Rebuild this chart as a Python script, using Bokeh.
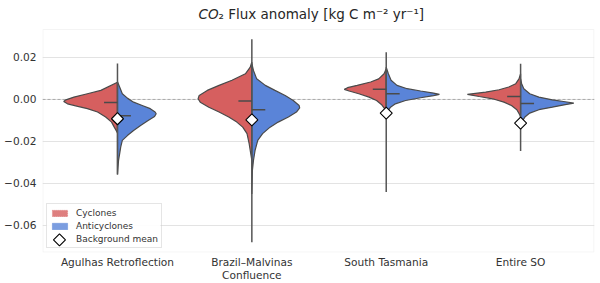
import math
from bokeh.plotting import figure
from bokeh.models import Span, Legend, LegendItem, FixedTicker, Label, BoxAnnotation
from bokeh.embed import file_html
from bokeh.resources import INLINE

# ---------------- data ----------------
regions = ["Agulhas Retroflection", "Brazil\u2013Malvinas\nConfluence", "South Tasmania", "Entire SO"]

# half-violin outlines: y levels and relative density (1 = widest half)
cyc_y = [
    [0.0082, 0.0043, 0.0027, 0.0011, -0.0002, -0.0010, -0.0021, -0.0033, -0.0044, -0.0060, -0.0084, -0.0108, -0.0132, -0.0150, -0.0160],
    [0.0178, 0.0154, 0.0122, 0.0091, 0.0067, 0.0043, 0.0019, 0.0003, -0.0013, -0.0037, -0.0060, -0.0084, -0.0108, -0.0132, -0.0163, -0.0211, -0.0259, -0.0290],
    [0.0146, 0.0122, 0.0098, 0.0083, 0.0067, 0.0056, 0.0048, 0.0040, 0.0027, 0.0011, -0.0005, -0.0024, -0.0044, -0.0060],
    [0.0122, 0.0098, 0.0075, 0.0059, 0.0046, 0.0035, 0.0024, 0.0014, 0.0003, -0.0013, -0.0029, -0.0049, -0.0071, -0.0084],
]
cyc_d = [
    [0, .31, .56, .81, .96, 1.0, .93, .74, .56, .37, .22, .11, .06, .02, 0],
    [0, .03, .12, .37, .61, .83, .98, 1.0, .96, .80, .61, .43, .28, .17, .09, .05, .02, 0],
    [0, .04, .14, .29, .54, .72, .78, .69, .51, .32, .18, .09, .03, 0],
    [0, .03, .09, .22, .40, .65, .99, .77, .52, .31, .17, .07, .02, 0],
]
anti_y = [
    [0.0084, 0.0059, 0.0027, 0.0005, -0.0013, -0.0029, -0.0044, -0.0060, -0.0068, -0.0081, -0.0100, -0.0124, -0.0148, -0.0171, -0.0195, -0.0227, -0.0259, -0.0290, -0.0357],
    [0.0170, 0.0138, 0.0098, 0.0067, 0.0043, 0.0019, -0.0005, -0.0029, -0.0040, -0.0060, -0.0084, -0.0108, -0.0132, -0.0163, -0.0195, -0.0243, -0.0290, -0.0338, -0.0450],
    [0.0154, 0.0122, 0.0091, 0.0067, 0.0051, 0.0040, 0.0030, 0.0024, 0.0018, 0.0008, -0.0005, -0.0021, -0.0037, -0.0056, -0.0068],
    [0.0098, 0.0075, 0.0051, 0.0027, 0.0011, -0.0002, -0.0011, -0.0018, -0.0025, -0.0037, -0.0049, -0.0065, -0.0084, -0.0103, -0.0116],
]
anti_d = [
    [0, .04, .09, .19, .30, .46, .61, .70, .72, .69, .57, .43, .30, .19, .09, .06, .04, .02, 0],
    [0, .03, .09, .25, .43, .62, .77, .88, .89, .83, .68, .49, .34, .20, .11, .06, .03, .01, 0],
    [0, .04, .09, .20, .39, .64, .88, .99, .88, .64, .36, .17, .08, .03, 0],
    [0, .02, .06, .17, .34, .59, .83, .99, .83, .59, .34, .17, .08, .03, 0],
]
cyc_median = [-0.0015, -0.0008, 0.0048, 0.0014]
anti_median = [-0.0078, -0.0049, 0.0027, -0.0020]
data_min = [-0.0357, -0.0680, -0.0441, -0.0246]
data_max = [0.0171, 0.0287, 0.0225, 0.0170]
background_mean = [-0.0092, -0.0097, -0.0065, -0.0113]

yticks = [-0.06, -0.04, -0.02, 0.0, 0.02]
ytick_labels = ["\u22120.06", "\u22120.04", "\u22120.02", "0.00", "0.02"]
legend_labels = ["Cyclones", "Anticyclones", "Background mean"]

# ---------------- style ----------------
RED = "#d65f5f"
BLUE = "#5a84d8"
EDGE = "#4a4a4a"
HALF = 0.4
FONT = "DejaVu Sans"
Y_LO, Y_HI = -0.0729, 0.0333      # visible axes box
Y_TOP = 0.04711                   # headroom used for the title line
X_LO, X_HI = -0.558, 3.55

p = figure(width=600, height=283, x_range=(X_LO, X_HI), y_range=(Y_LO, Y_TOP),
           output_backend="svg", toolbar_location=None,
           min_border_left=42, min_border_right=6, min_border_top=0, min_border_bottom=31)
p.background_fill_color = "white"
p.border_fill_color = "white"
p.outline_line_color = None
p.xgrid.visible = False
p.ygrid.grid_line_color = "#e3e3e3"
p.ygrid.grid_line_width = 1.0

box = BoxAnnotation(left=X_LO + 0.003, right=X_HI - 0.004, bottom=Y_LO + 0.0002, top=Y_HI,
                    fill_alpha=0, line_color="#dcdcdc", line_width=1.2, level="underlay")
p.add_layout(box)

zero = Span(location=0, dimension="width", line_color="#999999", line_dash="3 2", line_width=0.8, level="underlay")
p.add_layout(zero)

# white backing of the legend box (legend itself drawn transparent on top)
leg_bg = BoxAnnotation(left=-0.5284, right=0.3200, top=-0.0505, bottom=-0.0710,
                       fill_color="white", fill_alpha=0.9, line_alpha=0, level="underlay")
p.add_layout(leg_bg)

xs_c, ys_c, xs_a, ys_a = [], [], [], []
for i in range(len(regions)):
    xs_c.append([i - d * HALF for d in cyc_d[i]] + [i])
    ys_c.append(list(cyc_y[i]) + [cyc_y[i][0]])
    xs_a.append([i + d * HALF for d in anti_d[i]] + [i])
    ys_a.append(list(anti_y[i]) + [anti_y[i][0]])

p.patches(xs_c, ys_c, fill_color=RED, line_color=EDGE, line_width=1.2)
p.patches(xs_a, ys_a, fill_color=BLUE, line_color=EDGE, line_width=1.2)

xpos = list(range(len(regions)))
p.segment(x0=xpos, y0=data_min, x1=xpos, y1=data_max, line_color="#555555", line_width=1.5)
p.segment(x0=[x - 0.1 for x in xpos], y0=cyc_median, x1=xpos, y1=cyc_median, line_color=EDGE, line_width=1.5)
p.segment(x0=xpos, y0=anti_median, x1=[x + 0.1 for x in xpos], y1=anti_median, line_color=EDGE, line_width=1.5)

DIAMOND = dict(marker="square", angle=math.pi / 4, size=8.5, fill_color="white",
               line_color="black", line_width=1.1)
p.scatter(x=xpos, y=background_mean, **DIAMOND)

# legend key renderers (hidden; only their styles are used by the legend)
leg_c = p.patches(xs_c, ys_c, fill_color=RED, fill_alpha=0.8, line_color=RED, line_alpha=0.6,
                  line_dash="1 1", line_width=0.8, visible=False)
leg_a = p.patches(xs_a, ys_a, fill_color=BLUE, fill_alpha=0.8, line_color=BLUE, line_alpha=0.6,
                  line_width=0.8, visible=False)
leg_b = p.scatter(x=xpos, y=background_mean, fill_alpha=0, line_alpha=0, visible=False)

legend = Legend(items=[LegendItem(label=legend_labels[0], renderers=[leg_c]),
                       LegendItem(label=legend_labels[1], renderers=[leg_a]),
                       LegendItem(label=legend_labels[2], renderers=[leg_b])],
                location="bottom_left")
legend.label_text_font = FONT
legend.label_text_font_size = "9px"
legend.label_text_color = "#333333"
legend.glyph_width = 19
legend.glyph_height = 8
legend.label_height = 11
legend.label_standoff = 7
legend.spacing = 2
legend.padding = 3
legend.margin = 4
legend.border_line_color = "#cccccc"
legend.border_line_width = 1
legend.background_fill_alpha = 0.0
p.add_layout(legend)

# diamond key of the "Background mean" legend row
p.scatter(x=[-0.4317], y=[-0.0669], **DIAMOND)

p.xaxis.ticker = FixedTicker(ticks=xpos)
p.xaxis.major_label_overrides = {i: regions[i] for i in xpos}
p.yaxis.ticker = FixedTicker(ticks=yticks)
p.yaxis.major_label_overrides = {yticks[i]: ytick_labels[i] for i in range(len(yticks))}
for ax in (p.xaxis, p.yaxis):
    ax.axis_line_color = None
    ax.major_tick_line_color = None
    ax.minor_tick_line_color = None
    ax.major_tick_out = 0
    ax.major_label_text_font = FONT
    ax.major_label_text_font_size = "10.6px"
    ax.major_label_text_color = "#333333"
p.xaxis.major_label_standoff = 3
p.xaxis.major_label_text_line_height = 1.1
p.yaxis.major_label_standoff = 6

# title: italic CO, then the rest
t1 = Label(x=0.752, y=0.0409, text="CO", text_font=FONT, text_font_style="italic",
           text_font_size="13.5px", text_align="right", text_baseline="middle", text_color="#262626")
t2 = Label(x=0.752, y=0.0409, text="\u2082 Flux anomaly [kg C m\u207b\u00b2 yr\u207b\u00b9]", text_font=FONT,
           text_font_size="13.5px", text_align="left", text_baseline="middle", text_color="#262626")
p.add_layout(t1)
p.add_layout(t2)

open("out.html", "w").write(file_html(p, INLINE))
